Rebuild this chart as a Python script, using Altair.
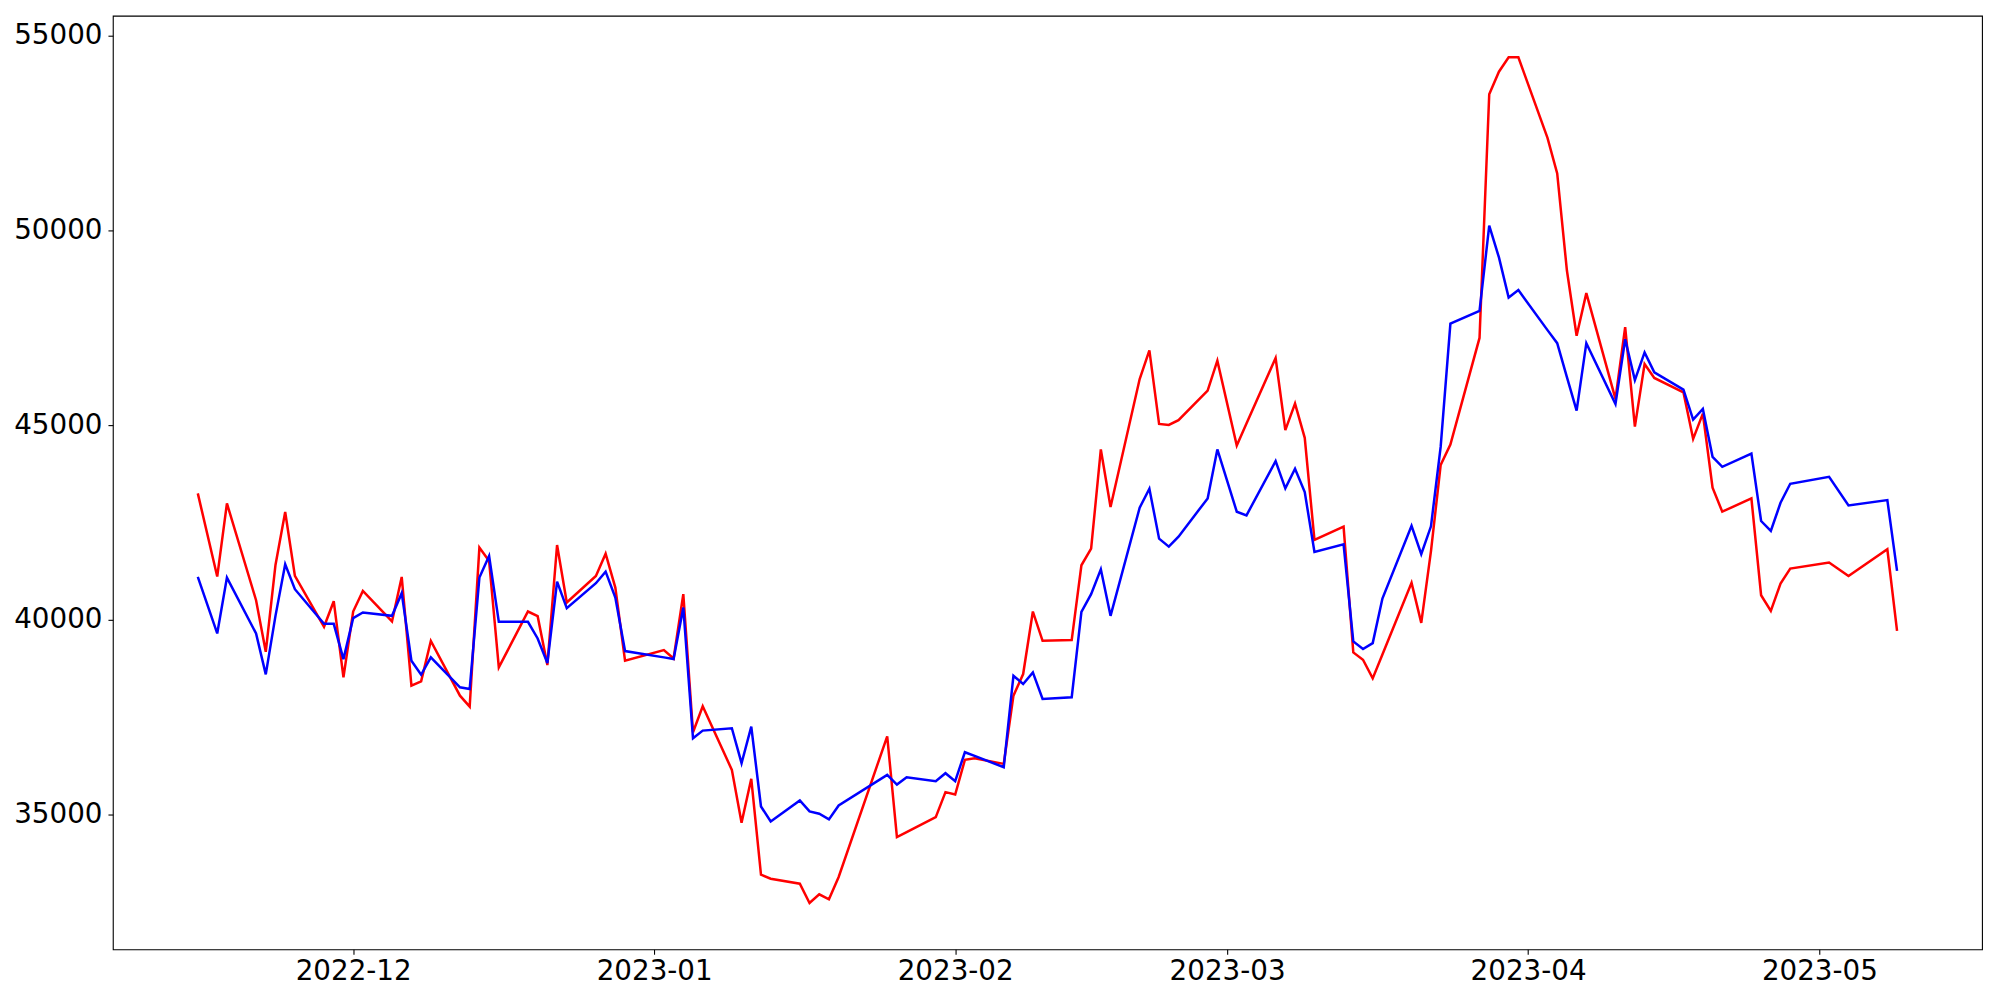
import altair as alt
import pandas as pd

# trading dates (month by month)
nov = ["2022-11-15", "2022-11-17", "2022-11-18", "2022-11-21", "2022-11-22", "2022-11-23",
       "2022-11-24", "2022-11-25", "2022-11-28", "2022-11-29", "2022-11-30"]
dec = ["2022-12-01", "2022-12-02", "2022-12-05", "2022-12-06", "2022-12-07", "2022-12-08",
       "2022-12-09", "2022-12-12", "2022-12-13", "2022-12-14", "2022-12-15", "2022-12-16",
       "2022-12-19", "2022-12-20", "2022-12-21", "2022-12-22", "2022-12-23", "2022-12-26",
       "2022-12-27", "2022-12-28", "2022-12-29"]
jan = ["2023-01-02", "2023-01-03", "2023-01-04", "2023-01-05", "2023-01-06", "2023-01-09",
       "2023-01-10", "2023-01-11", "2023-01-12", "2023-01-13", "2023-01-16", "2023-01-17",
       "2023-01-18", "2023-01-19", "2023-01-20", "2023-01-25", "2023-01-26", "2023-01-27",
       "2023-01-30", "2023-01-31"]
feb = ["2023-02-01", "2023-02-02", "2023-02-03", "2023-02-06", "2023-02-07", "2023-02-08",
       "2023-02-09", "2023-02-10", "2023-02-13", "2023-02-14", "2023-02-15", "2023-02-16",
       "2023-02-17", "2023-02-20", "2023-02-21", "2023-02-22", "2023-02-23", "2023-02-24",
       "2023-02-27", "2023-02-28"]
mar = ["2023-03-02", "2023-03-03", "2023-03-06", "2023-03-07", "2023-03-08", "2023-03-09",
       "2023-03-10", "2023-03-13", "2023-03-14", "2023-03-15", "2023-03-16", "2023-03-17",
       "2023-03-20", "2023-03-21", "2023-03-22", "2023-03-23", "2023-03-24", "2023-03-27",
       "2023-03-28", "2023-03-29", "2023-03-30", "2023-03-31"]
apr = ["2023-04-03", "2023-04-04", "2023-04-05", "2023-04-06", "2023-04-07", "2023-04-10",
       "2023-04-11", "2023-04-12", "2023-04-13", "2023-04-14", "2023-04-17", "2023-04-18",
       "2023-04-19", "2023-04-20", "2023-04-21", "2023-04-24", "2023-04-25", "2023-04-26",
       "2023-04-27", "2023-04-28"]
may = ["2023-05-02", "2023-05-04", "2023-05-08", "2023-05-09"]
dates = nov + dec + jan + feb + mar + apr + may

red_nov = [43243, 41105, 42986, 40498, 39172, 41404, 42764, 41122, 39814, 40472, 38514]
red_dec = [40207, 40737, 39951, 41096, 38300, 38411, 39450, 38044, 37762, 41849, 41507, 38771,
           40207, 40087, 38831, 41917, 40438, 41122, 41695, 40823, 38942]
red_jan = [39215, 39000, 40652, 37103, 37770, 36137, 34777, 35906, 33443, 33340, 33212, 32716,
           32939, 32810, 33383, 37000, 34409, 34538, 34923, 35564]
red_feb = [35504, 36394, 36436, 36291, 38044, 38600, 40207, 39455, 39472, 41396, 41823, 44372,
           42892, 46184, 46920, 45030, 45004, 45124, 45885, 46655]
red_mar = [44474, 45039, 46723, 44868, 45552, 44671, 42046, 42388, 39155, 38967, 38489, 39100,
           40943, 39914, 41760, 43974, 44500, 47239, 53502, 54083, 54452, 54452]
red_apr = [52383, 51466, 48972, 47295, 48391, 45673, 47518, 44960, 46569, 46210, 45842, 44645,
           45295, 43388, 42773, 43115, 40626, 40224, 40926, 41310]
red_may = [41465, 41121, 41806, 39711]
red_values = red_nov + red_dec + red_jan + red_feb + red_mar + red_apr + red_may

blue_nov = [41096, 39643, 41079, 39643, 38591, 40096, 41421, 40780, 39891, 39891, 38984]
blue_dec = [40036, 40182, 40096, 40678, 38942, 38582, 39027, 38258, 38215, 41079, 41635, 39942,
            39942, 39514, 38882, 40977, 40293, 40934, 41233, 40566, 39190]
blue_jan = [39028, 38985, 40310, 36949, 37146, 37206, 36308, 37248, 35196, 34811, 35350, 35068,
            35008, 34863, 35222, 36009, 35760, 35948, 35846, 36051]
blue_feb = [35846, 36590, 36496, 36205, 38557, 38343, 38642, 37958, 38001, 40199, 40652, 41293,
            40096, 42875, 43363, 42080, 41875, 42131, 43115, 44372]
blue_mar = [42773, 42679, 44072, 43371, 43876, 43277, 41738, 41935, 39438, 39241, 39395, 40541,
            42408, 41681, 42397, 44443, 47608, 47933, 50124, 49308, 48279, 48469]
blue_apr = [47440, 47105, 46233, 45372, 47105, 45539, 47206, 46155, 46868, 46355, 45911, 45141,
            45415, 44183, 43927, 44269, 42533, 42277, 43003, 43491]
blue_may = [43671, 42935, 43072, 41251]
blue_values = blue_nov + blue_dec + blue_jan + blue_feb + blue_mar + blue_apr + blue_may

y_ticks = [35000, 40000, 45000, 50000, 55000]
x_tick_months = [(2022, 12), (2023, 1), (2023, 2), (2023, 3), (2023, 4), (2023, 5)]

red_df = pd.DataFrame({"date": dates, "value": red_values})
blue_df = pd.DataFrame({"date": dates, "value": blue_values})

x_enc = alt.X(
    "date:T",
    title=None,
    scale=alt.Scale(
        type="utc",
        domain=[alt.DateTime(year=2022, month=11, date=6, hours=6, utc=True),
                alt.DateTime(year=2023, month=5, date=17, hours=18, utc=True)],
        nice=False,
    ),
    axis=alt.Axis(
        values=[alt.DateTime(year=y, month=m, date=1, utc=True) for y, m in x_tick_months],
        labelExpr="utcFormat(datum.value, '%Y-%m')",
        labelPadding=3,
    ),
)
y_enc = alt.Y(
    "value:Q",
    title=None,
    scale=alt.Scale(domain=[31524, 55521], nice=False, zero=False),
    axis=alt.Axis(values=y_ticks, format="d", labelPadding=6),
)

red_line = alt.Chart(red_df).mark_line(color="#ff0000", strokeWidth=2.5).encode(x=x_enc, y=y_enc)
blue_line = alt.Chart(blue_df).mark_line(color="#0000ff", strokeWidth=2.5).encode(x=x_enc, y=y_enc)

chart = (
    alt.layer(red_line, blue_line)
    .properties(
        width=1872,
        height=935,
        autosize=alt.AutoSizeParams(type="none"),
        padding={"left": 105, "top": 7, "right": 10, "bottom": 50},
    )
    .configure_view(stroke="black", strokeWidth=1.1)
    .configure_axis(
        labelFont="DejaVu Sans",
        labelFontSize=27.8,
        labelColor="black",
        tickColor="black",
        tickWidth=1.1,
        tickSize=4.9,
        domain=False,
        grid=False,
    )
)

chart.save("out.html", embed_options={"renderer": "svg", "actions": False})
